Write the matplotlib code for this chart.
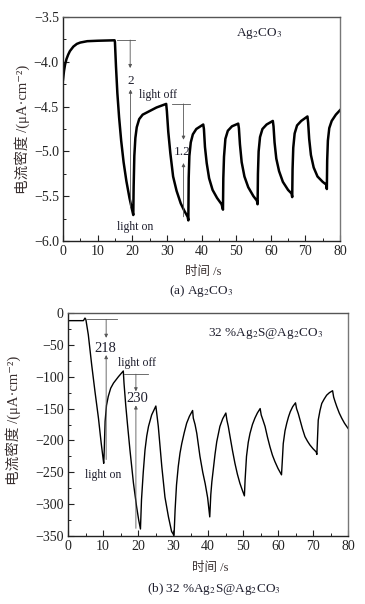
import matplotlib
matplotlib.use("Agg")
import matplotlib.pyplot as plt
from matplotlib.ticker import MultipleLocator

plt.rcParams['mathtext.fontset'] = 'stix'
plt.rcParams['font.family'] = ['Liberation Serif', 'DejaVu Serif']

# ---------------- data: panel (a) Ag2CO3 ----------------
t_a = [0.0, 0.3, 0.6, 1.0, 1.5, 2.0, 3.0, 4.0, 5.0, 7.0, 10.0, 14.9,
       15.0, 15.3, 15.7, 16.2, 16.8, 17.5, 18.3, 19.2, 20.0, 20.3,
       20.4, 20.6, 20.9, 21.3, 22.0, 23.0, 25.0, 27.0, 29.8,
       30.0, 30.4, 31.0, 31.8, 32.8, 34.0, 35.0, 36.0, 36.2,
       36.3, 36.5, 36.9, 37.5, 38.5, 40.5,
       40.7, 41.0, 41.5, 42.2, 43.2, 44.5, 45.8, 46.2,
       46.3, 46.5, 46.9, 47.6, 48.8, 50.6,
       50.8, 51.1, 51.6, 52.4, 53.5, 55.0, 56.0, 56.2,
       56.3, 56.5, 56.9, 57.6, 58.8, 60.6,
       60.8, 61.1, 61.6, 62.4, 63.5, 65.0, 66.0, 66.2,
       66.3, 66.5, 66.9, 67.6, 68.8, 70.6,
       70.8, 71.1, 71.6, 72.4, 73.5, 75.0, 76.0, 76.2,
       76.3, 76.5, 76.9, 77.6, 78.8, 80.0]
j_a = [-4.20, -4.10, -4.03, -3.97, -3.92, -3.88, -3.83, -3.80, -3.785, -3.77, -3.765, -3.76,
       -3.78, -4.05, -4.35, -4.62, -4.88, -5.12, -5.33, -5.52, -5.66, -5.71,
       -5.40, -5.05, -4.85, -4.73, -4.64, -4.59, -4.55, -4.51, -4.47,
       -4.55, -4.78, -5.02, -5.28, -5.44, -5.58, -5.66, -5.73, -5.77,
       -5.30, -5.05, -4.90, -4.81, -4.75, -4.70,
       -4.75, -4.95, -5.13, -5.30, -5.43, -5.52, -5.59, -5.65,
       -5.30, -5.06, -4.86, -4.77, -4.72, -4.69,
       -4.74, -4.92, -5.12, -5.28, -5.40, -5.50, -5.55, -5.59,
       -5.25, -5.00, -4.84, -4.75, -4.70, -4.66,
       -4.72, -4.90, -5.08, -5.22, -5.34, -5.43, -5.47, -5.51,
       -5.20, -4.96, -4.80, -4.71, -4.66, -4.61,
       -4.68, -4.86, -5.04, -5.18, -5.28, -5.34, -5.37, -5.42,
       -5.10, -4.88, -4.74, -4.66, -4.59, -4.54]

# ---------------- data: panel (b) 32%Ag2S@Ag2CO3 ----------------
t_b = [0.0, 4.4, 4.85, 5.1, 5.8, 6.76, 7.7, 8.7, 9.5, 10.2,
       10.3, 10.6, 11.0, 11.5, 12.2, 13.0, 14.4, 15.8,
       16.0, 16.5, 17.0, 17.7, 18.7, 19.6, 20.2, 20.7,
       21.0, 21.5, 22.0, 22.5, 23.0, 23.9, 25.1,
       25.3, 25.8, 26.8, 27.7, 28.7, 29.6, 30.3,
       30.6, 31.0, 31.5, 32.0, 32.5, 33.2, 33.9, 34.7, 35.6,
       35.8, 36.3, 36.8, 37.7, 38.5, 39.2, 39.9, 40.5,
       40.8, 41.1, 41.5, 42.0, 42.5, 43.4, 44.2, 45.1,
       45.4, 45.8, 46.3, 47.0, 47.7, 48.4, 49.1, 49.8, 50.4,
       50.6, 51.0, 51.5, 52.0, 52.7, 53.4, 54.1, 54.9,
       55.2, 55.7, 56.3, 57.0, 57.7, 58.4, 59.1, 60.0, 61.0,
       61.2, 61.5, 62.0, 62.5, 63.0, 63.5, 64.2, 65.0,
       65.3, 65.8, 66.3, 67.0, 67.7, 68.4, 69.1, 70.0, 70.9, 71.1,
       71.3, 71.5, 72.0, 72.5, 73.2, 73.9, 74.7, 75.6,
       75.9, 76.3, 76.8, 77.5, 78.2, 79.0, 80.0]
j_b = [-12, -12, -8, -10, -34, -81, -123, -165, -205, -236,
       -225, -170, -145, -131, -118, -110, -100, -91,
       -110, -145, -175, -215, -267, -304, -325, -339,
       -293, -250, -215, -193, -178, -160, -146,
       -155, -178, -241, -289, -320, -343, -349,
       -309, -270, -241, -220, -205, -188, -173, -162, -153,
       -165, -175, -189, -225, -250, -268, -290, -320,
       -285, -265, -246, -222, -202, -178, -166, -157,
       -168, -178, -194, -216, -236, -253, -267, -278, -287,
       -262, -225, -203, -189, -175, -165, -157, -150,
       -160, -168, -178, -195, -210, -223, -233, -244, -254,
       -235, -205, -185, -173, -163, -155, -147, -141,
       -150, -158, -168, -182, -194, -201, -207, -213, -218, -222,
       -195, -168, -153, -142, -135, -129, -125, -122,
       -132, -139, -147, -157, -165, -173, -181]

xticks = [0, 10, 20, 30, 40, 50, 60, 70, 80]

W, H = 365, 604
fig = plt.figure(figsize=(W / 100, H / 100), dpi=100)

ax1 = fig.add_axes([63 / W, 1 - 241 / H, 277 / W, 224 / H])
ax2 = fig.add_axes([68 / W, 1 - 536 / H, 280 / W, 223 / H])

txtc = '#1f1f2e'
annc = '#555555'

def style(ax, fs):
    for s in ax.spines.values():
        s.set_linewidth(1.0)
        s.set_color('#222222')
    ax.spines['right'].set_color('#777777')
    ax.spines['top'].set_color('#555555')
    ax.tick_params(direction='in', which='major', length=4, width=0.8,
                   labelsize=fs, pad=3, colors='#222222')
    ax.tick_params(direction='in', which='minor', length=2.2, width=0.7,
                   colors='#222222')
    ax.tick_params(right=False, top=False, which='both')
    ax.set_xlim(0, 80)
    ax.set_xticks(xticks)
    ax.xaxis.set_minor_locator(MultipleLocator(5))

def arrow(ax, x, y0, y1):
    ax.annotate('', xy=(x, y1), xytext=(x, y0),
                arrowprops=dict(arrowstyle='-|>', lw=0.6, color=annc,
                                mutation_scale=5, shrinkA=0, shrinkB=0))

# ---- panel (a)
ax1.plot(t_a, j_a, color='black', lw=1.8, solid_joinstyle='round')
style(ax1, 10)
ax1.set_ylim(-6.0, -3.5)
ax1.yaxis.set_major_locator(MultipleLocator(0.5))
ax1.yaxis.set_minor_locator(MultipleLocator(0.25))
ax1.set_yticklabels([f'{v:.1f}'.replace('-', '\u2212') for v in ax1.get_yticks()])

ax1.plot([15.5, 20.8], [-3.757, -3.757], color=annc, lw=0.6)
arrow(ax1, 19.4, -3.757, -4.07)
ax1.text(19.5, -4.21, '2', ha='center', va='center', fontsize=9.5, color=txtc)
arrow(ax1, 19.5, -5.62, -4.31)
ax1.plot([31.4, 36.7], [-4.47, -4.47], color=annc, lw=0.6)
arrow(ax1, 34.8, -4.47, -4.87)
ax1.text(34.4, -5.01, '1.2', ha='center', va='center', fontsize=9.5, color=txtc)
arrow(ax1, 34.8, -5.73, -5.13)
ax1.text(27.3, -4.37, 'light off', ha='center', va='center', fontsize=8.5, color=txtc)
ax1.text(20.8, -5.84, 'light on', ha='center', va='center', fontsize=8.5, color=txtc)
ax1.text(56.5, -3.68, 'Ag$_2$CO$_3$', ha='center', va='center', fontsize=9.5, color=txtc)

# ---- panel (b)
ax2.plot(t_b, j_b, color='black', lw=1.0)
style(ax2, 10)
ax2.set_ylim(-350, 0)
ax2.yaxis.set_major_locator(MultipleLocator(50))
ax2.yaxis.set_minor_locator(MultipleLocator(25))
ax2.set_yticklabels([f'{v:.0f}'.replace('-', '\u2212') for v in ax2.get_yticks()])

ax2.plot([5.3, 13.9], [-10, -10], color=annc, lw=0.6)
arrow(ax2, 10.9, -10, -39)
ax2.text(10.6, -55, '218', ha='center', va='center', fontsize=10.5, color=txtc)
arrow(ax2, 10.9, -230, -66)
ax2.plot([16.0, 22.9], [-96, -96], color=annc, lw=0.6)
arrow(ax2, 19.4, -96, -123)
ax2.text(19.9, -134, '230', ha='center', va='center', fontsize=10.5, color=txtc)
arrow(ax2, 19.4, -338, -145)
ax2.text(19.6, -79, 'light off', ha='center', va='center', fontsize=8.5, color=txtc)
ax2.text(10.1, -254, 'light on', ha='center', va='center', fontsize=8.5, color=txtc)
ax2.text(56.3, -32, '32 %Ag$_2$S@Ag$_2$CO$_3$', ha='center', va='center',
         fontsize=9.5, color=txtc)

# ---- labels
cjk = ['Liberation Serif', 'Noto Sans CJK SC', 'DejaVu Sans']
ylab = '电流密度 /(μA·cm⁻²)'
fig.text(22 / W, 1 - 129 / H, ylab, rotation=90, ha='center', va='center',
         fontsize=10.5, family=cjk, color='#3a3030')
fig.text(13 / W, 1 - 420 / H, ylab, rotation=90, ha='center', va='center',
         fontsize=10.5, family=cjk, color='#3a3030')
fig.text(203 / W, 1 - 272 / H, '时间 /s', ha='center', va='center',
         fontsize=9, family=cjk, color='#3a3030')
fig.text(210 / W, 1 - 568 / H, '时间 /s', ha='center', va='center',
         fontsize=9, family=cjk, color='#3a3030')
fig.text(201 / W, 1 - 291 / H, '(a) Ag$_2$CO$_3$', ha='center', va='center',
         fontsize=9.5, color=txtc)
fig.text(214 / W, 1 - 589 / H, '(b) 32 %Ag$_2$S@Ag$_2$CO$_3$', ha='center',
         va='center', fontsize=9.5, color=txtc)

fig.savefig('out.png', dpi=100)
